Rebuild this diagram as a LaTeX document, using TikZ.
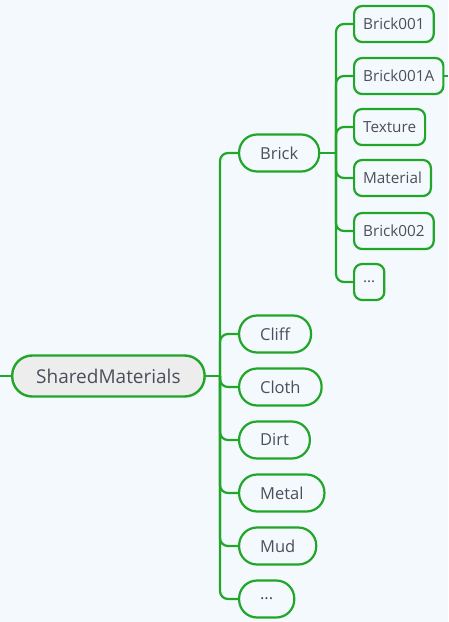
\documentclass[tikz,border=0pt]{standalone}
\usepackage{fontspec}
\setmainfont{Open Sans}
\usepackage{tikz}

\definecolor{mmgreen}{HTML}{22A62A}
\definecolor{mmtext}{HTML}{4A4F5B}
\definecolor{mmback}{HTML}{F4F9FD}
\definecolor{mmroot}{HTML}{EDEDED}

\tikzset{
  rootbox/.style={draw=mmgreen, line width=2.4pt, fill=mmroot, text=mmtext,
    rounded corners=20pt, minimum height=41pt, inner xsep=24pt, anchor=west,
    font=\fontsize{19}{22}\selectfont},
  topicbox/.style={draw=mmgreen, line width=2.2pt, fill=mmback, text=mmtext,
    rounded corners=18pt, minimum height=37pt, inner xsep=21pt, anchor=west,
    font=\fontsize{16.5}{19}\selectfont},
  leafbox/.style={draw=mmgreen, line width=2.2pt, fill=mmback, text=mmtext,
    rounded corners=8pt, minimum height=36pt, inner xsep=9pt, anchor=west,
    font=\fontsize{15.3}{18}\selectfont},
  link/.style={draw=mmgreen, line width=2.2pt, rounded corners=8pt}
}

\begin{document}
\begin{tikzpicture}[x=1pt,y=-1pt]
\useasboundingbox[fill=mmback] (0,0) rectangle (448,622);

% root and first level
\node[rootbox] (root) at (11,376) {SharedMaterials};
\node[topicbox] (brick) at (238,153) {Brick};
\node[topicbox] (cliff) at (238,334) {Cliff};
\node[topicbox] (cloth) at (238,387) {Cloth};
\node[topicbox] (dirt) at (238,440) {Dirt};
\node[topicbox] (metal) at (238,493) {Metal};
\node[topicbox] (mud) at (238,546) {Mud};
\node[topicbox] (more) at (238,599) {...};

% children of Brick
\node[leafbox] (b001) at (353,24) {Brick001};
\node[leafbox] (b001a) at (353,76) {Brick001A};
\node[leafbox] (texture) at (353,127) {Texture};
\node[leafbox] (material) at (353,178) {Material};
\node[leafbox] (b002) at (353,231) {Brick002};
\node[leafbox] (bmore) at (353,282) {...};

\coordinate (lstub) at (0,376);
\coordinate (rstub) at (448,76);
\coordinate (jroot) at (220,376);
\coordinate (jbrick) at (336,153);

\draw[link] (lstub) -- (root.west);
\draw[link] (root.east) -- (jroot);
\foreach \n in {brick,cliff,cloth,dirt,metal,mud,more}
  \draw[link] (jroot) |- (\n.west);

\draw[link] (brick.east) -- (jbrick);
\foreach \n in {b001,b001a,texture,material,b002,bmore}
  \draw[link] (jbrick) |- (\n.west);
\draw[link] (b001a.east) -- (rstub);

\end{tikzpicture}
\end{document}
